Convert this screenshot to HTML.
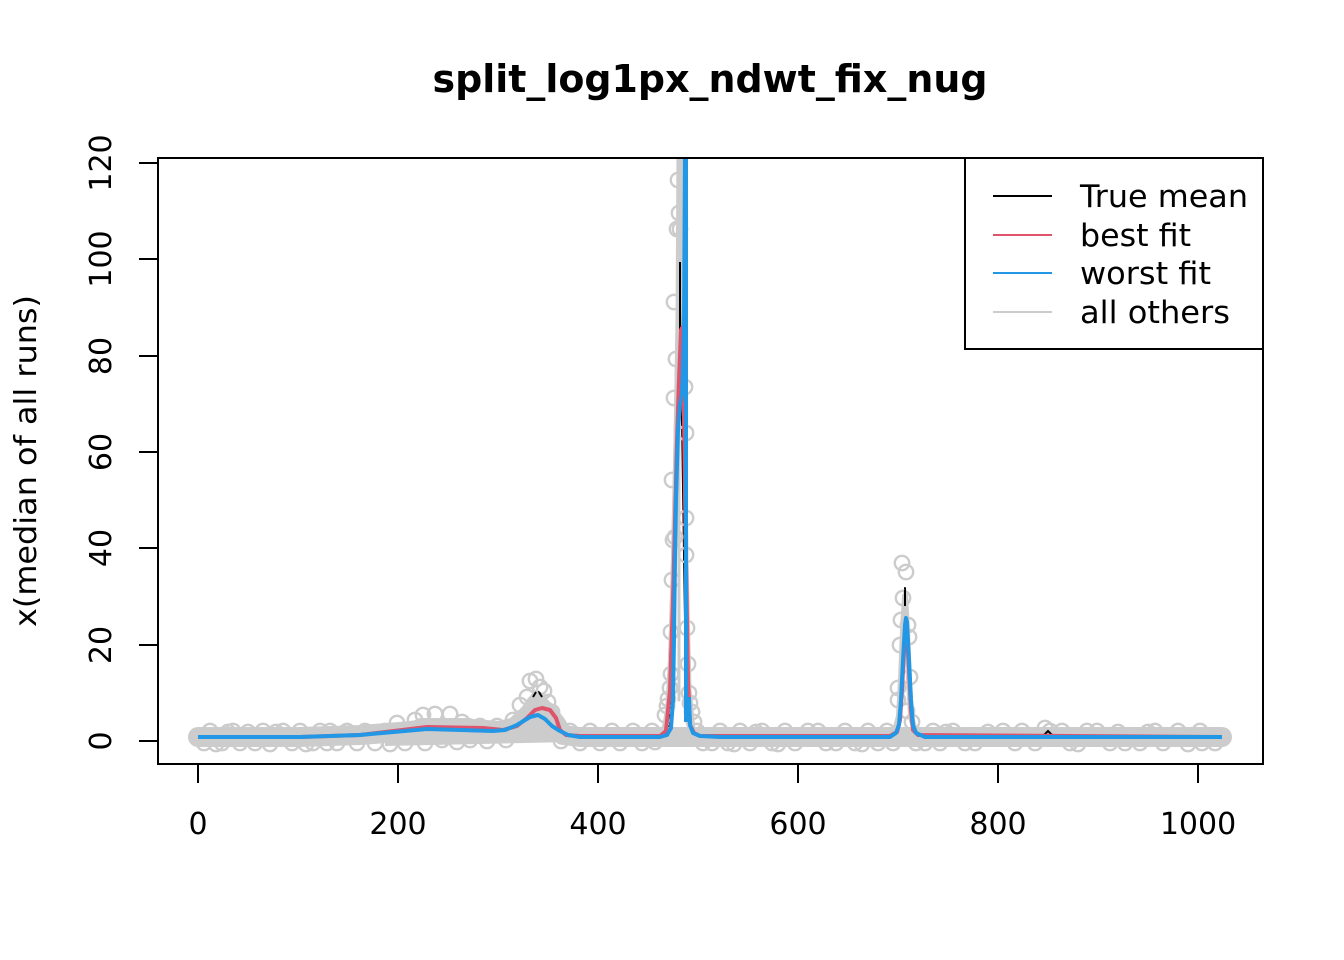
<!DOCTYPE html>
<html>
<head>
<meta charset="utf-8">
<style>
html,body{margin:0;padding:0;background:#fff;}
svg{display:block;}
text{font-family:"DejaVu Sans","Liberation Sans",sans-serif;fill:#000;}
</style>
</head>
<body>
<svg width="1344" height="960" viewBox="0 0 1344 960" xmlns="http://www.w3.org/2000/svg">
<rect x="0" y="0" width="1344" height="960" fill="#fff"/>
<defs>
<clipPath id="pc"><rect x="158" y="158" width="1105" height="606"/></clipPath>
</defs>

<!-- title -->
<text x="710" y="92" font-size="38.4" font-weight="bold" text-anchor="middle" textLength="555" lengthAdjust="spacingAndGlyphs">split_log1px_ndwt_fix_nug</text>

<g clip-path="url(#pc)">
<!-- true mean (drawn first, mostly hidden by grey) -->
<path fill="none" stroke="#000" stroke-width="2" stroke-linejoin="round" d="M198,737 L380,735 L423,725 L447,725 L470,729 L493,736 L510,733 L525,712 L533,694 L537,691 L541,694 L548,712 L560,733 L580,737 L665,737 L670,725 L675,600 L678,420 L680,259 L682,420 L685,620 L688,725 L695,736 L895,737 L900,720 L903,660 L905,588 L907,660 L910,720 L915,736 L1040,737 L1048,732 L1056,737 L1222,737"/>

<!-- grey band (all others lines) -->
<g fill="#CCCCCC" stroke="none">
<polygon points="385,737 400,726 420,718 470,718 490,724 508,723 520,710 528,698 535,691 542,693 550,702 556,714 562,730 570,742 385,746"/>
</g>
<g fill="none" stroke="#CCCCCC" stroke-linejoin="round" stroke-linecap="round">
<path stroke-width="20" d="M198,737 L300,737 L360,735 L400,732 L430,729 L470,729 L500,731 L515,727 L527,716 L537,706 L547,712 L556,724 L563,735 L580,737 L660,737 L690,737 L890,737 L1222,737"/>
<path stroke-width="4" d="M658,737 L664,730 L667,712 L670,660 L673,560 L676,420 L678,300 L679,200 L680,150 M681,150 L683,300 L685,450 L687,600 L689,700 L692,728 L700,737"/>
<path stroke-width="3" d="M660,737 L666,718 L669,680 L672,580 L675,440 L677,320 L678,150 M679,300 L679,700 M684,150 L685,400 L687,560 L690,690 L694,730 L702,737"/>
<path stroke-width="3" d="M662,737 L668,700 L671,620 L674,500 L677,380 L679,260 M682,260 L684,420 L686,600 L689,710"/>
<path stroke-width="6" d="M886,737 L895,731 L899,716 L901,680 L903,630 L905,596 L907,630 L909,680 L911,716 L915,731 L924,737"/>
</g>
<!-- circles -->
<g fill="none" stroke="#CCCCCC" stroke-width="2.4">
<circle cx="198" cy="737" r="7.2"/><circle cx="204" cy="743" r="7.2"/><circle cx="210" cy="731" r="7.2"/><circle cx="216" cy="744" r="7.2"/>
<circle cx="222" cy="743" r="7.2"/><circle cx="228" cy="732" r="7.2"/><circle cx="233" cy="731" r="7.2"/><circle cx="240" cy="743" r="7.2"/>
<circle cx="248" cy="732" r="7.2"/><circle cx="255" cy="743" r="7.2"/><circle cx="263" cy="731" r="7.2"/><circle cx="270" cy="744" r="7.2"/>
<circle cx="276" cy="732" r="7.2"/><circle cx="283" cy="731" r="7.2"/><circle cx="292" cy="743" r="7.2"/><circle cx="300" cy="731" r="7.2"/>
<circle cx="306" cy="744" r="7.2"/><circle cx="313" cy="743" r="7.2"/><circle cx="320" cy="731" r="7.2"/><circle cx="327" cy="743" r="7.2"/>
<circle cx="330" cy="731" r="7.2"/><circle cx="337" cy="743" r="7.2"/>
<circle cx="347" cy="731" r="7.2"/><circle cx="357" cy="743" r="7.2"/><circle cx="365" cy="731" r="7.2"/><circle cx="375" cy="743" r="7.2"/>
<circle cx="385" cy="731" r="7.2"/><circle cx="390" cy="744" r="7.2"/><circle cx="397" cy="723" r="7.2"/><circle cx="405" cy="743" r="7.2"/><circle cx="415" cy="720" r="7.2"/>
<circle cx="423" cy="715" r="7.2"/><circle cx="435" cy="714" r="7.2"/><circle cx="450" cy="714" r="7.2"/><circle cx="442" cy="740" r="7.2"/>
<circle cx="425" cy="743" r="7.2"/><circle cx="457" cy="742" r="7.2"/>
<circle cx="462" cy="722" r="7.2"/><circle cx="470" cy="740" r="7.2"/><circle cx="480" cy="726" r="7.2"/><circle cx="487" cy="741" r="7.2"/>
<circle cx="497" cy="726" r="7.2"/><circle cx="506" cy="740" r="7.2"/><circle cx="513" cy="720" r="7.2"/>
<circle cx="520" cy="705" r="7.2"/><circle cx="527" cy="697" r="7.2"/><circle cx="530" cy="681" r="7.2"/><circle cx="536" cy="679" r="7.2"/>
<circle cx="540" cy="687" r="7.2"/><circle cx="544" cy="691" r="7.2"/><circle cx="548" cy="702" r="7.2"/><circle cx="552" cy="712" r="7.2"/>
<circle cx="556" cy="725" r="7.2"/><circle cx="561" cy="741" r="7.2"/><circle cx="570" cy="731" r="7.2"/><circle cx="580" cy="743" r="7.2"/>
<circle cx="590" cy="731" r="7.2"/><circle cx="600" cy="743" r="7.2"/><circle cx="612" cy="731" r="7.2"/><circle cx="620" cy="743" r="7.2"/>
<circle cx="633" cy="731" r="7.2"/><circle cx="642" cy="743" r="7.2"/><circle cx="652" cy="731" r="7.2"/><circle cx="655" cy="742" r="7.2"/>
<circle cx="665" cy="715" r="7.2"/><circle cx="667" cy="706" r="7.2"/><circle cx="668" cy="699" r="7.2"/><circle cx="670" cy="688" r="7.2"/>
<circle cx="671" cy="674" r="7.2"/><circle cx="671" cy="632" r="7.2"/><circle cx="672" cy="580" r="7.2"/><circle cx="673" cy="540" r="7.2"/>
<circle cx="675" cy="537" r="7.2"/><circle cx="672" cy="480" r="7.2"/><circle cx="674" cy="398" r="7.2"/><circle cx="676" cy="359" r="7.2"/>
<circle cx="674" cy="302" r="7.2"/><circle cx="677" cy="229" r="7.2"/><circle cx="680" cy="229" r="7.2"/><circle cx="679" cy="213" r="7.2"/>
<circle cx="678" cy="180" r="7.2"/><circle cx="685" cy="387" r="7.2"/><circle cx="686" cy="433" r="7.2"/><circle cx="686" cy="518" r="7.2"/>
<circle cx="686" cy="555" r="7.2"/><circle cx="687" cy="628" r="7.2"/><circle cx="688" cy="664" r="7.2"/><circle cx="689" cy="693" r="7.2"/>
<circle cx="690" cy="703" r="7.2"/><circle cx="692" cy="712" r="7.2"/><circle cx="694" cy="722" r="7.2"/><circle cx="697" cy="731" r="7.2"/>
<circle cx="703" cy="743" r="7.2"/><circle cx="712" cy="743" r="7.2"/><circle cx="720" cy="731" r="7.2"/><circle cx="728" cy="743" r="7.2"/>
<circle cx="734" cy="744" r="7.2"/><circle cx="740" cy="731" r="7.2"/><circle cx="750" cy="743" r="7.2"/><circle cx="756" cy="732" r="7.2"/><circle cx="762" cy="731" r="7.2"/><circle cx="772" cy="743" r="7.2"/>
<circle cx="778" cy="744" r="7.2"/><circle cx="785" cy="731" r="7.2"/><circle cx="795" cy="743" r="7.2"/><circle cx="808" cy="731" r="7.2"/><circle cx="818" cy="731" r="7.2"/>
<circle cx="826" cy="743" r="7.2"/><circle cx="836" cy="743" r="7.2"/><circle cx="845" cy="731" r="7.2"/><circle cx="855" cy="743" r="7.2"/>
<circle cx="862" cy="744" r="7.2"/><circle cx="868" cy="731" r="7.2"/><circle cx="878" cy="743" r="7.2"/><circle cx="887" cy="731" r="7.2"/><circle cx="893" cy="743" r="7.2"/>
<circle cx="898" cy="700" r="7.2"/><circle cx="898" cy="688" r="7.2"/><circle cx="900" cy="645" r="7.2"/><circle cx="901" cy="620" r="7.2"/>
<circle cx="903" cy="598" r="7.2"/><circle cx="902" cy="563" r="7.2"/><circle cx="906" cy="572" r="7.2"/><circle cx="908" cy="625" r="7.2"/>
<circle cx="909" cy="637" r="7.2"/><circle cx="910" cy="677" r="7.2"/><circle cx="907" cy="711" r="7.2"/><circle cx="912" cy="722" r="7.2"/>
<circle cx="916" cy="743" r="7.2"/><circle cx="925" cy="743" r="7.2"/><circle cx="933" cy="731" r="7.2"/><circle cx="940" cy="743" r="7.2"/>
<circle cx="946" cy="732" r="7.2"/><circle cx="953" cy="731" r="7.2"/><circle cx="965" cy="743" r="7.2"/><circle cx="975" cy="743" r="7.2"/><circle cx="988" cy="732" r="7.2"/><circle cx="1003" cy="731" r="7.2"/>
<circle cx="1015" cy="743" r="7.2"/><circle cx="1022" cy="731" r="7.2"/><circle cx="1035" cy="743" r="7.2"/><circle cx="1045" cy="728" r="7.2"/>
<circle cx="1050" cy="731" r="7.2"/><circle cx="1062" cy="731" r="7.2"/><circle cx="1070" cy="743" r="7.2"/><circle cx="1078" cy="744" r="7.2"/><circle cx="1087" cy="731" r="7.2"/>
<circle cx="1097" cy="731" r="7.2"/><circle cx="1110" cy="743" r="7.2"/><circle cx="1118" cy="732" r="7.2"/><circle cx="1125" cy="743" r="7.2"/><circle cx="1140" cy="743" r="7.2"/>
<circle cx="1148" cy="732" r="7.2"/><circle cx="1155" cy="731" r="7.2"/><circle cx="1163" cy="743" r="7.2"/><circle cx="1178" cy="731" r="7.2"/><circle cx="1188" cy="744" r="7.2"/><circle cx="1200" cy="731" r="7.2"/>
<circle cx="1202" cy="743" r="7.2"/><circle cx="1215" cy="743" r="7.2"/><circle cx="1222" cy="737" r="7.2"/>
</g>

<!-- small visible bits of the true mean above the grey -->
<path fill="none" stroke="#000" stroke-width="2" d="M533,697 L536,692 M539,692 L542,697 M680,262 L680,330 M905,590 L905,606 M1044,735 L1048,731 L1052,735"/>

<!-- best fit -->
<path fill="none" stroke="#DF536B" stroke-width="4" stroke-linejoin="round" d="M198,737 L300,737 L360,735 L427,727 L483,728 L503,730 L517,726 L527,718 L535,710 L542,708 L550,710 L556,718 L560,730 L566,735 L580,736 L660,736 L666,731 L670,690 L673,600 L675,520 L677,440 L679,380 L681,330 L682,328 L684,420 L686,560 L688,680 L690,725 L694,733 L700,736 L890,736 L897,732 L900,720 L902,690 L904,650 L906,630 L907,635 L909,670 L911,710 L913,730 L918,735 L1222,737"/>
<!-- worst fit -->
<path fill="none" stroke="#2297E6" stroke-width="4" stroke-linejoin="round" d="M198,737 L300,737 L360,735 L427,729 L493,731 L505,730 L517,725 L530,717 L538,715 L545,719 L552,726 L560,731 L568,735 L580,737 L660,737 L667,735 L671,728 L673,700 L674,640 L675,560 L676,500 L678,430 L680,404 L682,395 L684,330 L685,150"/>
<path fill="none" stroke="#2297E6" stroke-width="4" stroke-linejoin="round" d="M686,150 L686,722"/>
<path fill="none" stroke="#2297E6" stroke-width="4" stroke-linejoin="round" d="M689,697 L690,725 L693,733 L700,736 L720,737 L890,737 L896,733 L899,725 L901,700 L903,660 L905,625 L906,618 L907,622 L909,660 L911,700 L913,725 L916,733 L925,737 L1222,737"/>
</g>

<!-- plot box -->
<rect x="158" y="158" width="1105" height="606" fill="none" stroke="#000" stroke-width="2"/>

<!-- x axis -->
<g stroke="#000" stroke-width="2">
<line x1="198" y1="764" x2="1198" y2="764"/>
<line x1="198" y1="764" x2="198" y2="783"/>
<line x1="398" y1="764" x2="398" y2="783"/>
<line x1="598" y1="764" x2="598" y2="783"/>
<line x1="798" y1="764" x2="798" y2="783"/>
<line x1="998" y1="764" x2="998" y2="783"/>
<line x1="1198" y1="764" x2="1198" y2="783"/>
</g>
<g font-size="30" text-anchor="middle">
<text x="198" y="834">0</text>
<text x="398" y="834">200</text>
<text x="598" y="834">400</text>
<text x="798" y="834">600</text>
<text x="998" y="834">800</text>
<text x="1198" y="834">1000</text>
</g>

<!-- y axis -->
<g stroke="#000" stroke-width="2">
<line x1="158" y1="741" x2="158" y2="163"/>
<line x1="139" y1="741" x2="158" y2="741"/>
<line x1="139" y1="645" x2="158" y2="645"/>
<line x1="139" y1="548" x2="158" y2="548"/>
<line x1="139" y1="452" x2="158" y2="452"/>
<line x1="139" y1="356" x2="158" y2="356"/>
<line x1="139" y1="259" x2="158" y2="259"/>
<line x1="139" y1="163" x2="158" y2="163"/>
</g>
<g font-size="30" text-anchor="middle">
<text transform="translate(111,741) rotate(-90)">0</text>
<text transform="translate(111,645) rotate(-90)">20</text>
<text transform="translate(111,548) rotate(-90)">40</text>
<text transform="translate(111,452) rotate(-90)">60</text>
<text transform="translate(111,356) rotate(-90)">80</text>
<text transform="translate(111,259) rotate(-90)">100</text>
<text transform="translate(111,163) rotate(-90)">120</text>
</g>
<text transform="translate(36,461) rotate(-90)" font-size="30" text-anchor="middle" textLength="332" lengthAdjust="spacingAndGlyphs">x(median of all runs)</text>

<!-- legend -->
<rect x="965" y="158" width="298" height="191" fill="#fff" stroke="#000" stroke-width="2"/>
<g stroke-width="2">
<line x1="993" y1="196" x2="1052" y2="196" stroke="#000"/>
<line x1="993" y1="235" x2="1052" y2="235" stroke="#DF536B"/>
<line x1="993" y1="273" x2="1052" y2="273" stroke="#2297E6"/>
<line x1="993" y1="312" x2="1052" y2="312" stroke="#CCCCCC"/>
</g>
<g font-size="31">
<text x="1080" y="207" textLength="168" lengthAdjust="spacingAndGlyphs">True mean</text>
<text x="1080" y="246" textLength="111" lengthAdjust="spacingAndGlyphs">best fit</text>
<text x="1080" y="284" textLength="131" lengthAdjust="spacingAndGlyphs">worst fit</text>
<text x="1080" y="323" textLength="150" lengthAdjust="spacingAndGlyphs">all others</text>
</g>
</svg>
</body>
</html>
